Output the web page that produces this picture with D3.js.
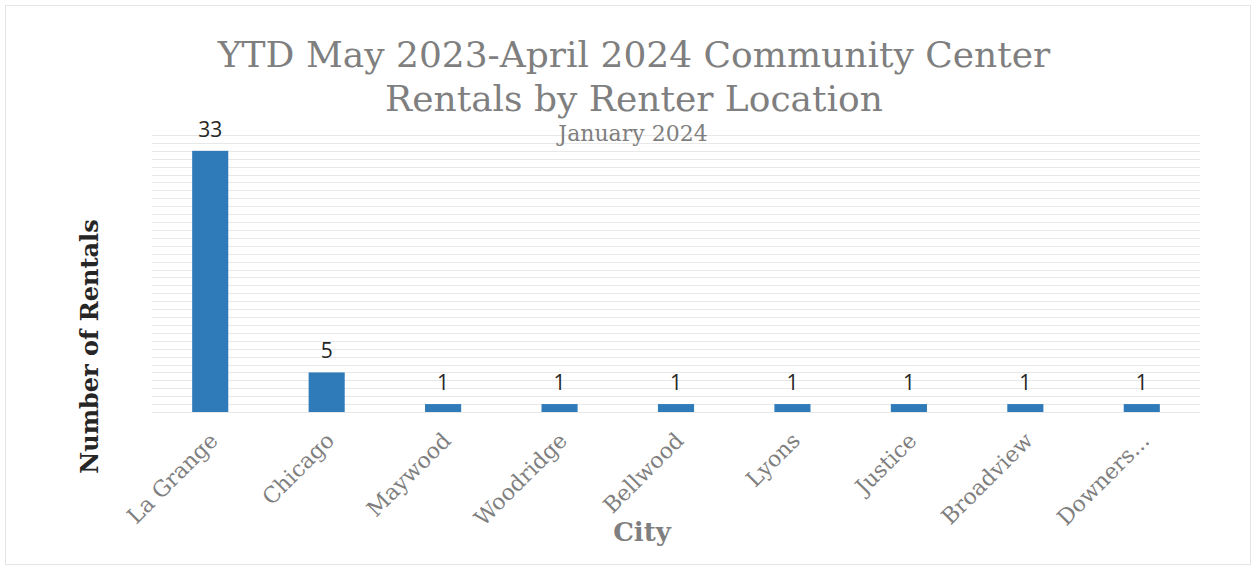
<!DOCTYPE html>
<html>
<head>
<meta charset="utf-8">
<script src="https://cdn.jsdelivr.net/npm/d3@7/dist/d3.min.js"></script>
<style>
  body { margin: 0; background: #fff; }
  svg { display: block; }
</style>
</head>
<body>
<svg id="chart" width="1257" height="571"></svg>
<script>
// chart data
const cities = ["La Grange", "Chicago", "Maywood", "Woodridge", "Bellwood", "Lyons", "Justice", "Broadview", "Downers..."];
const rentals = [33, 5, 1, 1, 1, 1, 1, 1, 1];
const titleLines = ["YTD May 2023-April 2024 Community Center", "Rentals by Renter Location"];
const subTitle = "January 2024";

const width = 1257, height = 571;
const margin = { top: 135, right: 57, bottom: 159, left: 152 };
const serif = "'DejaVu Serif', 'Liberation Serif', serif";

const svg = d3.select("#chart");

// outer frame
svg.append("rect")
  .attr("x", 5.5).attr("y", 5.5)
  .attr("width", 1245).attr("height", 559)
  .attr("fill", "#fff").attr("stroke", "#e4e4e4");

const x = d3.scaleBand()
  .domain(cities)
  .range([margin.left, width - margin.right])
  .paddingInner(0.69)
  .paddingOuter(0.345);

const y = d3.scaleLinear()
  .domain([0, 35])
  .range([height - margin.bottom, margin.top]);

// gridlines, one per rental
svg.append("g")
  .selectAll("line")
  .data(d3.range(0, 36))
  .join("line")
  .attr("x1", margin.left).attr("x2", width - margin.right)
  .attr("y1", d => Math.round(y(d)) + 0.5)
  .attr("y2", d => Math.round(y(d)) + 0.5)
  .attr("stroke", "#e8e8e8")
  .attr("stroke-width", 1);

// bars
svg.append("g")
  .selectAll("rect")
  .data(rentals)
  .join("rect")
  .attr("x", (d, i) => x(cities[i]))
  .attr("y", d => y(d))
  .attr("width", x.bandwidth())
  .attr("height", d => y(0) - y(d))
  .attr("fill", "#2f7ab8");

// value labels
svg.append("g")
  .selectAll("text")
  .data(rentals)
  .join("text")
  .attr("x", (d, i) => x(cities[i]) + x.bandwidth() / 2)
  .attr("y", d => y(d) - 14)
  .attr("text-anchor", "middle")
  .attr("font-family", "'Open Sans', 'Noto Sans', sans-serif")
  .attr("font-size", 21)
  .attr("fill", "#262626")
  .text(d => d);

// x axis labels
const xAxis = d3.axisBottom(x).tickSize(0).tickPadding(0);
const gx = svg.append("g")
  .attr("transform", `translate(0,${y(0)})`)
  .call(xAxis);
gx.select(".domain").remove();
gx.selectAll("text")
  .attr("font-family", serif)
  .attr("font-size", 22)
  .attr("fill", "#7f7f7f")
  .attr("text-anchor", "end")
  .attr("dy", 0)
  .attr("transform", "translate(9,30) rotate(-45)");

// titles
svg.append("text")
  .attr("text-anchor", "middle")
  .attr("font-family", serif)
  .attr("font-size", 36)
  .attr("fill", "#7f7f7f")
  .selectAll("tspan")
  .data(titleLines)
  .join("tspan")
  .attr("x", 634)
  .attr("y", (d, i) => 67 + i * 44)
  .text(d => d);

svg.append("text")
  .attr("x", 633).attr("y", 141)
  .attr("text-anchor", "middle")
  .attr("font-family", serif)
  .attr("font-size", 22)
  .attr("fill", "#7f7f7f")
  .text(subTitle);

// axis titles
svg.append("text")
  .attr("transform", `translate(98,${(margin.top + y(0)) / 2 + 73}) rotate(-90)`)
  .attr("text-anchor", "middle")
  .attr("font-family", serif)
  .attr("font-weight", "bold")
  .attr("font-size", 24)
  .attr("fill", "#262626")
  .text("Number of Rentals");

svg.append("text")
  .attr("x", 642).attr("y", 541)
  .attr("text-anchor", "middle")
  .attr("font-family", serif)
  .attr("font-weight", "bold")
  .attr("font-size", 26)
  .attr("fill", "#7f7f7f")
  .text("City");
</script>
</body>
</html>
